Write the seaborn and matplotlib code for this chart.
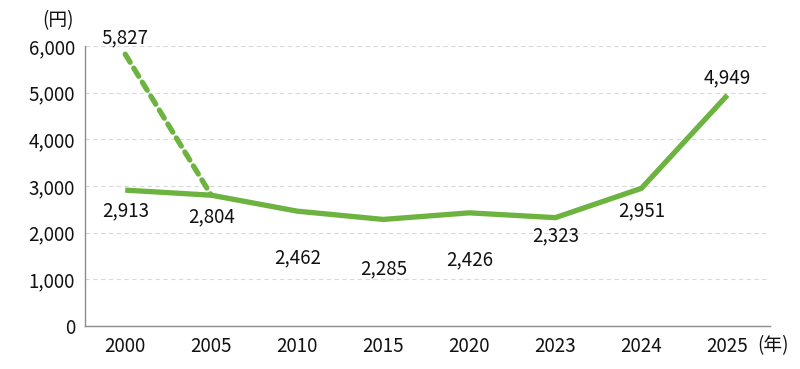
import matplotlib
matplotlib.use("Agg")
import matplotlib.pyplot as plt
import seaborn as sns
import pandas as pd

# データ
years = ["2000", "2005", "2010", "2015", "2020", "2023", "2024", "2025"]
values = [2913, 2804, 2462, 2285, 2426, 2323, 2951, 4949]
dash_years = ["2000", "2005"]
dash_values = [5827, 2804]

# ラベル位置（ピクセル単位のずらし）
label_offsets = [(0, -21), (0, -22), (0, -47), (0, -49), (0, -47), (0, -18), (0, -22), (0, 17)]

sns.set_style("white")
plt.rcParams['font.family'] = ['Noto Sans CJK JP', 'DejaVu Sans']
plt.rcParams['text.color'] = "#111111"
plt.rcParams['xtick.color'] = "#111111"
plt.rcParams['ytick.color'] = "#111111"

green = "#6cb33f"
fs = 13.5
df = pd.DataFrame({"year": years, "value": values})
df_dash = pd.DataFrame({"year": dash_years, "value": dash_values})

fig = plt.figure(figsize=(8, 3.69), dpi=100)
ax = fig.add_axes([0.106, 0.1165, 0.857, 0.7585])

sns.lineplot(data=df, x="year", y="value", ax=ax, color=green, linewidth=3.8,
             sort=False, solid_capstyle="butt")
sns.lineplot(data=df_dash, x="year", y="value", ax=ax, color=green, linewidth=3.8,
             sort=False, linestyle=(0, (1.8, 1.3)), dash_capstyle="round")

ax.set_ylim(0, 6000)
ax.set_xlim(-0.47, 7.5)
ax.set_yticks(range(0, 6001, 1000))
ax.set_yticklabels([f"{v:,}" for v in range(0, 6001, 1000)], fontsize=fs)
ax.set_xticks(range(len(years)))
ax.set_xticklabels(years, fontsize=fs)
ax.tick_params(axis="both", length=0, pad=7)
ax.set_xlabel("")
ax.set_ylabel("")

ax.yaxis.grid(True, color="#d9d9d9", linestyle=(0, (4, 3)), linewidth=0.8)
ax.set_axisbelow(True)
for s in ["top", "right"]:
    ax.spines[s].set_visible(False)
for s in ["left", "bottom"]:
    ax.spines[s].set_color("#8c8c8c")
    ax.spines[s].set_linewidth(1.0)

# 数値ラベル
for i, (v, off) in enumerate(zip(values, label_offsets)):
    ax.annotate(f"{v:,}", (i, v), xytext=(off[0] * 0.72, off[1] * 0.72),
                textcoords="offset points", ha="center", va="center", fontsize=fs)
ax.annotate(f"{dash_values[0]:,}", (0, dash_values[0]), xytext=(0, 12),
            textcoords="offset points", ha="center", va="center", fontsize=fs)

fig.text(0.072, 0.945, "(円)", ha="center", va="center", fontsize=fs)
ax.annotate("(年)", (7, 0), xytext=(33, -14), textcoords="offset points",
            ha="center", va="center", fontsize=fs)

fig.savefig("out.png", dpi=100)
